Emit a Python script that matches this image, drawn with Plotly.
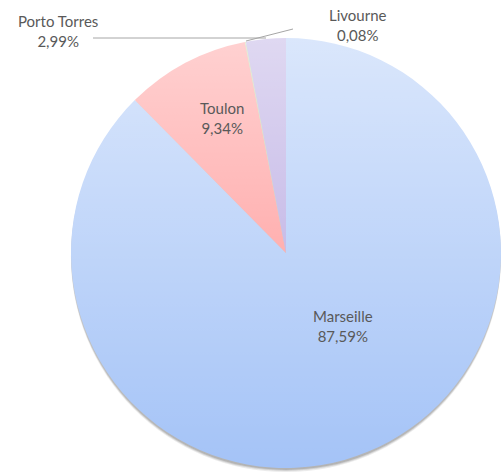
import base64
import plotly.graph_objects as go

# parts des ports (en %)
ports = ['Marseille', 'Toulon', 'Livourne', 'Porto Torres']
parts = [87.59, 9.34, 0.08, 2.99]
couleurs = ['#a4c3f7', '#ff8e8e', '#c3d69b', '#b09fde']

W, H = 501, 472


def px_x(x):
    return x / W


def px_y(y):
    return 1 - y / H


def etiquette(nom, val):
    return f"{nom}<br>{val:.2f}".replace('.', ',') + '%'


fig = go.Figure()

# ombre sous le camembert
for dy, alpha in [(4, 0.10), (3, 0.15), (2, 0.20)]:
    fig.add_trace(go.Pie(
        values=[1], labels=['ombre'], sort=False,
        marker=dict(colors=[f'rgba(60,60,60,{alpha})']),
        textinfo='none', hoverinfo='skip', showlegend=False,
        domain=dict(x=[px_x(71), 1], y=[px_y(468 + dy), px_y(38 + dy)]),
    ))

fig.add_trace(go.Pie(
    labels=ports, values=parts, sort=False, direction='clockwise',
    marker=dict(colors=couleurs, line=dict(width=0)),
    textinfo='none', showlegend=False,
    domain=dict(x=[px_x(71), 1], y=[px_y(468), px_y(38)]),
))

# dégradé blanc par-dessus (effet Excel)
svg = ('<svg xmlns="http://www.w3.org/2000/svg" viewBox="0 0 100 100" '
       'width="100" height="100" preserveAspectRatio="none">'
       '<defs><linearGradient id="g" x1="0" y1="0" x2="0" y2="1">'
       '<stop offset="0" stop-color="#ffffff" stop-opacity="0.6"/>'
       '<stop offset="1" stop-color="#ffffff" stop-opacity="0"/>'
       '</linearGradient></defs>'
       '<rect width="100" height="100" fill="url(#g)"/></svg>')
src = 'data:image/svg+xml;base64,' + base64.b64encode(svg.encode()).decode()
fig.add_layout_image(dict(
    source=src, xref='paper', yref='paper',
    x=px_x(68), y=px_y(36), sizex=px_x(W - 68), sizey=434 / H,
    xanchor='left', yanchor='top', sizing='stretch', layer='above',
))

# étiquettes
pos = {'Marseille': (343, 326), 'Toulon': (222, 118),
       'Livourne': (358, 25), 'Porto Torres': (58, 31)}
for nom, val in zip(ports, parts):
    x, y = pos[nom]
    fig.add_annotation(x=px_x(x), y=px_y(y), xref='paper', yref='paper',
                       xanchor='center', yanchor='middle',
                       text=etiquette(nom, val), showarrow=False,
                       font=dict(size=15, color='#595959', family='Lato'),
                       align='center')

# lignes de rappel
for x0, y0, x1, y1 in [(93, 38, 266, 38), (293, 29, 246, 41)]:
    fig.add_shape(type='line', xref='paper', yref='paper',
                  x0=px_x(x0), y0=px_y(y0), x1=px_x(x1), y1=px_y(y1),
                  line=dict(color='#a6a6a6', width=1))

fig.update_layout(
    width=W, height=H,
    margin=dict(l=0, r=0, t=0, b=0),
    paper_bgcolor='white', plot_bgcolor='white',
)

fig.write_html('out.html', config={'displayModeBar': False},
               post_script="document.body.style.margin='0';")
